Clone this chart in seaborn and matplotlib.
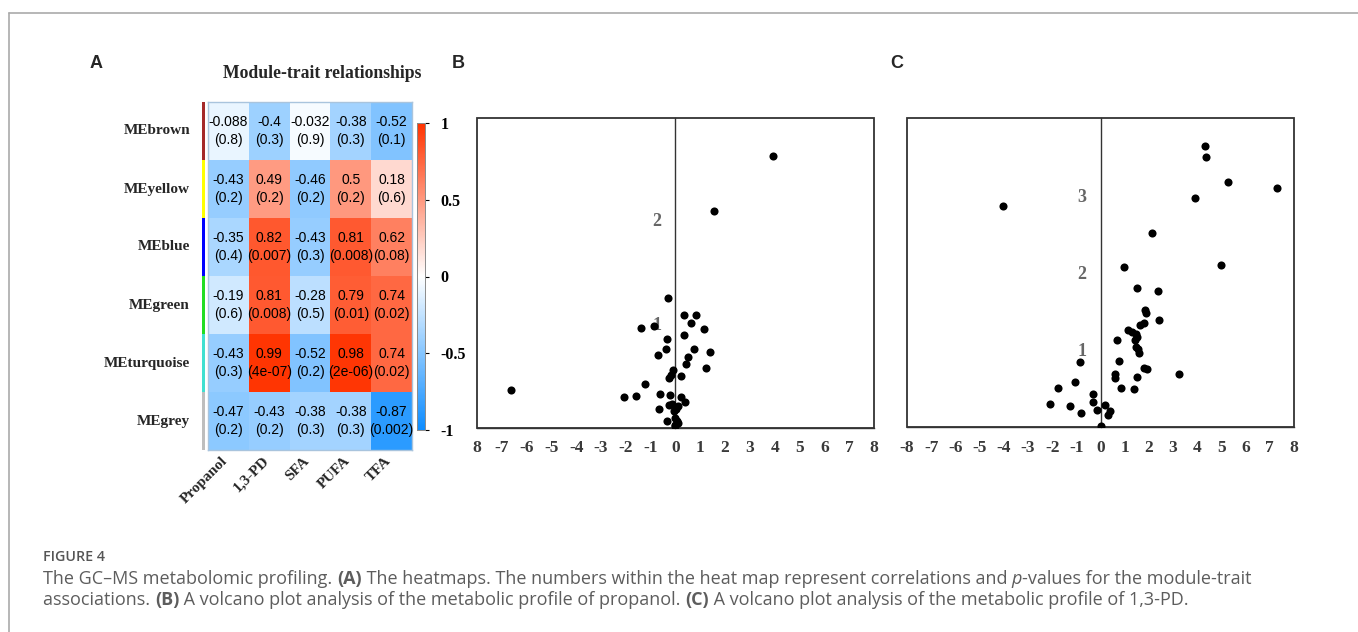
import numpy as np
import pandas as pd
import matplotlib
matplotlib.use("Agg")
import matplotlib.pyplot as plt
import seaborn as sns
from matplotlib.colors import LinearSegmentedColormap, ListedColormap
from matplotlib.lines import Line2D
from matplotlib.transforms import ScaledTranslation

# ---- data -------------------------------------------------------------
modules = ["MEbrown", "MEyellow", "MEblue", "MEgreen", "MEturquoise", "MEgrey"]
module_colors = ["#A52A2A", "#FFFF00", "#0000FF", "#22DD22", "#40E0D0", "#BEBEBE"]
traits = ["Propanol", "1,3-PD", "SFA", "PUFA", "TFA"]

cor_brown = [-0.088, -0.4, -0.032, -0.38, -0.52]
cor_yellow = [-0.43, 0.49, -0.46, 0.5, 0.18]
cor_blue = [-0.35, 0.82, -0.43, 0.81, 0.62]
cor_green = [-0.19, 0.81, -0.28, 0.79, 0.74]
cor_turquoise = [-0.43, 0.99, -0.52, 0.98, 0.74]
cor_grey = [-0.47, -0.43, -0.38, -0.38, -0.87]

p_brown = ["0.8", "0.3", "0.9", "0.3", "0.1"]
p_yellow = ["0.2", "0.2", "0.2", "0.2", "0.6"]
p_blue = ["0.4", "0.007", "0.3", "0.008", "0.08"]
p_green = ["0.6", "0.008", "0.5", "0.01", "0.02"]
p_turquoise = ["0.3", "4e-07", "0.2", "2e-06", "0.02"]
p_grey = ["0.2", "0.2", "0.3", "0.3", "0.002"]

# volcano B (propanol)
b_x = [3.92, 1.55, -0.32, 0.36, 0.81, 0.62, -1.38, -0.85, 1.13, -0.34,
       0.36, -0.38, 0.74, -0.71, 1.41, 0.52, 0.43, 1.24, -0.09, -0.17,
       -0.28, 0.24, -1.21, -6.63, -2.07, -1.61, -0.62, -0.22, 0.24, 0.40,
       -0.27, 0.12, -0.66, -0.13, -0.08, 0.03, -0.35, -0.01, 0.05, -0.04,
       0.00, 0.09]
b_y = [2.61, 2.09, 1.25, 1.09, 1.09, 1.01, 0.96, 0.98, 0.955, 0.86,
       0.89, 0.76, 0.76, 0.70, 0.73, 0.68, 0.62, 0.58, 0.56, 0.51,
       0.48, 0.50, 0.42, 0.37, 0.30, 0.31, 0.33, 0.315, 0.30, 0.25,
       0.22, 0.21, 0.18, 0.235, 0.16, 0.18, 0.064, 0.096, 0.064, 0.03,
       0.016, 0.05]

# volcano C (1,3-PD)
c_x = [4.31, 4.38, 5.28, 7.29, 3.91, -4.02, 2.11, 4.99, 0.96, 1.49,
       2.36, 1.83, 1.90, 2.42, 1.80, 1.65, 1.14, 1.31, 1.45, 1.52,
       1.42, 0.67, 1.46, 1.53, 1.60, -0.84, 0.77, 1.80, 1.91, 3.25,
       0.59, 0.58, 1.49, -1.06, -1.75, 0.85, 1.39, -0.29, -0.30, -2.07,
       -1.25, 0.17, -0.15, 0.39, -0.80, 0.33, 0.01]
c_y = [3.64, 3.49, 3.17, 3.10, 2.96, 2.86, 2.51, 2.10, 2.07, 1.80,
       1.76, 1.52, 1.48, 1.39, 1.34, 1.32, 1.25, 1.23, 1.21, 1.16,
       1.13, 1.12, 1.03, 1.01, 0.96, 0.84, 0.85, 0.76, 0.75, 0.68,
       0.68, 0.64, 0.65, 0.58, 0.50, 0.50, 0.49, 0.43, 0.33, 0.30,
       0.27, 0.28, 0.22, 0.21, 0.18, 0.16, 0.01]

x_ticks = list(range(-8, 9))
b_xticklabels = ["8"] + [str(v) for v in x_ticks[1:]]
c_xticklabels = [str(v) for v in x_ticks]

# ---- style ------------------------------------------------------------
sns.set_style("white")
plt.rcParams["font.family"] = ["Liberation Serif", "DejaVu Serif"]
SANS = ["Liberation Sans", "DejaVu Sans"]
SERIF = ["Liberation Serif", "DejaVu Serif"]

W, H = 1358, 632
fig = plt.figure(figsize=(W / 100, H / 100), dpi=100)


def box(x0, y0, x1, y1):
    return [x0 / W, 1 - y1 / H, (x1 - x0) / W, (y1 - y0) / H]


# ---- panel A: module-trait heatmap -----------------------------------
cor = pd.DataFrame([cor_brown, cor_yellow, cor_blue, cor_green,
                    cor_turquoise, cor_grey], index=modules, columns=traits)
pvals = [p_brown, p_yellow, p_blue, p_green, p_turquoise, p_grey]
annot = np.array([[f"{c:g}\n({p})" for c, p in zip(cor.loc[m], pr)]
                  for m, pr in zip(modules, pvals)])

# WGCNA blueWhiteRed palette
bwr = LinearSegmentedColormap.from_list(
    "blueWhiteRed", [(0.05, 0.55, 1.0), (1, 1, 1), (1.0, 0.2, 0.0)])

ax_a = fig.add_axes(box(208, 102, 412, 450))
ax_cb = fig.add_axes(box(417, 123, 425, 430))
sns.heatmap(cor, ax=ax_a, cmap=bwr, vmin=-1, vmax=1, annot=annot, fmt="",
            annot_kws={"fontsize": 10, "family": SANS, "color": "black",
                       "linespacing": 1.3},
            cbar_ax=ax_cb, cbar_kws={"ticks": [1, 0.5, 0, -0.5, -1]})
ax_a.set_xlabel("")
ax_a.set_ylabel("")
ax_a.set_yticklabels(modules, rotation=0, fontsize=11, fontweight="bold",
                     family=SERIF)
ax_a.set_xticklabels(traits, rotation=45, ha="right", rotation_mode="anchor",
                     fontsize=11, fontweight="bold", family=SERIF)
ax_a.tick_params(axis="y", length=0, pad=13)
ax_a.tick_params(axis="x", length=0, pad=3)
shift = ScaledTranslation(-7 / 100, 0, fig.dpi_scale_trans)
for t in ax_a.get_xticklabels():
    t.set_transform(t.get_transform() + shift)
for s in ax_a.spines.values():
    s.set_visible(True)
    s.set_color("#a9c4dd")
    s.set_linewidth(1.0)
ax_a.set_title("Module-trait relationships", fontsize=12.7,
               fontweight="bold", family=SERIF, x=0.56, pad=17)

ax_cb.tick_params(labelsize=11.5, length=3, width=0.8, pad=8, colors="black")
ax_cb.set_yticklabels(["1", "0.5", "0", "-0.5", "-1"])
for t in ax_cb.get_yticklabels():
    t.set_fontweight("bold")
    t.set_family(SERIF)
for s in ax_cb.spines.values():
    s.set_visible(True)
    s.set_color("#8a8a8a")
    s.set_linewidth(0.6)

# module colour strip
ax_strip = fig.add_axes(box(201.5, 102, 204.5, 450))
sns.heatmap(pd.DataFrame({"m": range(len(modules))}), ax=ax_strip,
            cmap=ListedColormap(module_colors), cbar=False,
            xticklabels=False, yticklabels=False)


# ---- panels B and C: volcano plots ------------------------------------
def volcano(ax, x, y, ylim, yticks, xticklabels):
    sns.scatterplot(x=x, y=y, ax=ax, color="black", s=34, linewidth=0,
                    zorder=3)
    ax.set_xlim(-8, 8)
    ax.set_ylim(*ylim)
    ax.set_xticks(x_ticks)
    ax.set_xticklabels(xticklabels)
    ax.set_yticks(yticks)
    ax.set_yticklabels([str(v) for v in yticks])
    for s in ["top", "right"]:
        ax.spines[s].set_visible(False)
    ax.spines["left"].set_position(("data", 0))
    ax.spines["left"].set_linewidth(1.0)
    ax.spines["bottom"].set_linewidth(1.0)
    ax.spines["left"].set_color("#333333")
    ax.spines["bottom"].set_color("#333333")
    ax.patch.set_edgecolor("#333333")
    ax.patch.set_linewidth(1.3)
    ax.tick_params(axis="x", direction="in", length=5, width=1, pad=9,
                   labelsize=12.5, colors="#333333", labelcolor="#3a3a3a")
    ax.tick_params(axis="y", direction="in", length=4, width=1, pad=10,
                   labelsize=13, colors="#333333", labelcolor="#666666")
    for t in ax.get_xticklabels() + ax.get_yticklabels():
        t.set_fontweight("bold")
        t.set_family(SERIF)
    ax.set_xlabel("")
    ax.set_ylabel("")


ax_b = fig.add_axes(box(477, 118, 874, 428))
volcano(ax_b, b_x, b_y, (0, 2.98), [1, 2], b_xticklabels)
ax_c = fig.add_axes(box(907, 118, 1294, 427))
volcano(ax_c, c_x, c_y, (0, 4.0), [1, 2, 3], c_xticklabels)

# ---- panel letters ----------------------------------------------------
for letter, px in [("A", 96), ("B", 458), ("C", 897)]:
    fig.text(px / W, 1 - 63 / H, letter, fontsize=13, fontweight="bold",
             family=SANS, ha="center", va="center")

# ---- frame lines ------------------------------------------------------
fig.add_artist(Line2D([9 / W, 1], [1 - 13 / H, 1 - 13 / H], color="#aaaaaa",
                      lw=1.2, transform=fig.transFigure))
fig.add_artist(Line2D([9 / W, 9 / W], [0, 1 - 13 / H], color="#aaaaaa",
                      lw=1.2, transform=fig.transFigure))

# ---- caption ----------------------------------------------------------
renderer = fig.canvas.get_renderer()
CAP = dict(fontsize=13, color="#5d5d5d", family=["Open Sans", "DejaVu Sans"],
           va="center", ha="left")


def runs(x_px, y_px, parts):
    x = x_px / W
    for txt, style in parts:
        kw = dict(CAP)
        kw.update(style)
        t = fig.text(x, 1 - y_px / H, txt, **kw)
        x += t.get_window_extent(renderer).width / W


fig.text(43 / W, 1 - 557 / H, "FIGURE 4", fontsize=10.3, color="#555555",
         family=["Open Sans", "DejaVu Sans"], fontweight="semibold",
         va="center", ha="left")
B = {"fontweight": "bold"}
I = {"fontstyle": "italic"}
runs(43, 579, [("The GC\u2013MS metabolomic profiling. ", {}), ("(A)", B),
               (" The heatmaps. The numbers within the heat map represent "
                "correlations and ", {}), ("p", I),
               ("-values for the module-trait", {})])
runs(43, 600, [("associations. ", {}), ("(B)", B),
               (" A volcano plot analysis of the metabolic profile of "
                "propanol. ", {}), ("(C)", B),
               (" A volcano plot analysis of the metabolic profile of "
                "1,3-PD.", {})])

fig.savefig("out.png", dpi=100)
